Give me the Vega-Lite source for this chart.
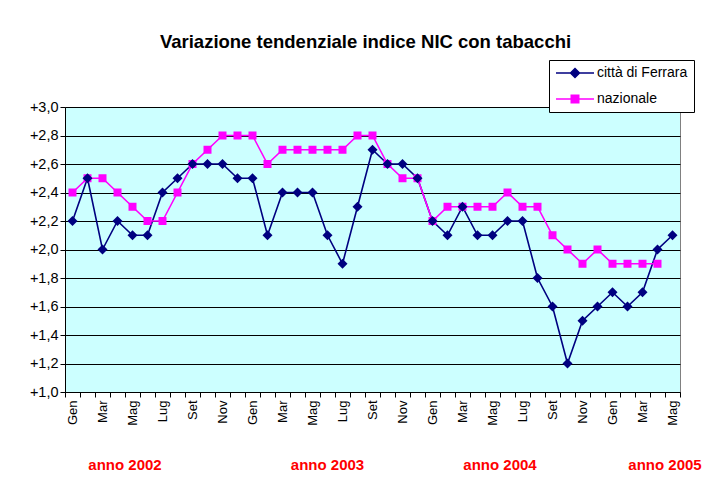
{
  "$schema": "https://vega.github.io/schema/vega-lite/v6.json",
  "width": 615,
  "height": 285,
  "autosize": {"type": "none"},
  "padding": {"left": 65, "top": 107, "right": 24, "bottom": 85},
  "background": "white",
  "config": {
    "font": "Liberation Sans",
    "view": {"fill": "#CCFFFF", "stroke": "#808080", "strokeWidth": 1},
    "axisX": {
      "title": null,
      "tickBand": "extent",
      "tickSize": 5,
      "tickColor": "black",
      "domainColor": "black",
      "labelAngle": -90,
      "labelFontSize": 13,
      "labelColor": "black",
      "labelPadding": 3,
      "labelOverlap": false,
      "grid": false
    },
    "axisY": {
      "title": null,
      "labelFontSize": 14.5,
      "labelColor": "black",
      "labelPadding": 2,
      "labelOverlap": false,
      "tickSize": 5,
      "tickColor": "black",
      "domainColor": "black",
      "grid": true,
      "gridColor": "black",
      "gridOpacity": 1,
      "gridWidth": 1
    }
  },
  "title": {
    "text": "Variazione tendenziale indice NIC con tabacchi",
    "font": "Liberation Sans",
    "fontSize": 18.5,
    "fontWeight": "bold",
    "color": "black",
    "anchor": "middle",
    "frame": "group",
    "offset": 8,
    "dx": -7
  },
  "layer": [
    {
      "data": {
        "values": [
          {"mese": "2002-01", "città di Ferrara": 2.2, "nazionale": 2.4},
          {"mese": "2002-02", "città di Ferrara": 2.5, "nazionale": 2.5},
          {"mese": "2002-03", "città di Ferrara": 2.0, "nazionale": 2.5},
          {"mese": "2002-04", "città di Ferrara": 2.2, "nazionale": 2.4},
          {"mese": "2002-05", "città di Ferrara": 2.1, "nazionale": 2.3},
          {"mese": "2002-06", "città di Ferrara": 2.1, "nazionale": 2.2},
          {"mese": "2002-07", "città di Ferrara": 2.4, "nazionale": 2.2},
          {"mese": "2002-08", "città di Ferrara": 2.5, "nazionale": 2.4},
          {"mese": "2002-09", "città di Ferrara": 2.6, "nazionale": 2.6},
          {"mese": "2002-10", "città di Ferrara": 2.6, "nazionale": 2.7},
          {"mese": "2002-11", "città di Ferrara": 2.6, "nazionale": 2.8},
          {"mese": "2002-12", "città di Ferrara": 2.5, "nazionale": 2.8},
          {"mese": "2003-01", "città di Ferrara": 2.5, "nazionale": 2.8},
          {"mese": "2003-02", "città di Ferrara": 2.1, "nazionale": 2.6},
          {"mese": "2003-03", "città di Ferrara": 2.4, "nazionale": 2.7},
          {"mese": "2003-04", "città di Ferrara": 2.4, "nazionale": 2.7},
          {"mese": "2003-05", "città di Ferrara": 2.4, "nazionale": 2.7},
          {"mese": "2003-06", "città di Ferrara": 2.1, "nazionale": 2.7},
          {"mese": "2003-07", "città di Ferrara": 1.9, "nazionale": 2.7},
          {"mese": "2003-08", "città di Ferrara": 2.3, "nazionale": 2.8},
          {"mese": "2003-09", "città di Ferrara": 2.7, "nazionale": 2.8},
          {"mese": "2003-10", "città di Ferrara": 2.6, "nazionale": 2.6},
          {"mese": "2003-11", "città di Ferrara": 2.6, "nazionale": 2.5},
          {"mese": "2003-12", "città di Ferrara": 2.5, "nazionale": 2.5},
          {"mese": "2004-01", "città di Ferrara": 2.2, "nazionale": 2.2},
          {"mese": "2004-02", "città di Ferrara": 2.1, "nazionale": 2.3},
          {"mese": "2004-03", "città di Ferrara": 2.3, "nazionale": 2.3},
          {"mese": "2004-04", "città di Ferrara": 2.1, "nazionale": 2.3},
          {"mese": "2004-05", "città di Ferrara": 2.1, "nazionale": 2.3},
          {"mese": "2004-06", "città di Ferrara": 2.2, "nazionale": 2.4},
          {"mese": "2004-07", "città di Ferrara": 2.2, "nazionale": 2.3},
          {"mese": "2004-08", "città di Ferrara": 1.8, "nazionale": 2.3},
          {"mese": "2004-09", "città di Ferrara": 1.6, "nazionale": 2.1},
          {"mese": "2004-10", "città di Ferrara": 1.2, "nazionale": 2.0},
          {"mese": "2004-11", "città di Ferrara": 1.5, "nazionale": 1.9},
          {"mese": "2004-12", "città di Ferrara": 1.6, "nazionale": 2.0},
          {"mese": "2005-01", "città di Ferrara": 1.7, "nazionale": 1.9},
          {"mese": "2005-02", "città di Ferrara": 1.6, "nazionale": 1.9},
          {"mese": "2005-03", "città di Ferrara": 1.7, "nazionale": 1.9},
          {"mese": "2005-04", "città di Ferrara": 2.0, "nazionale": 1.9},
          {"mese": "2005-05", "città di Ferrara": 2.1, "nazionale": null}
        ]
      },
      "transform": [
        {"fold": ["città di Ferrara", "nazionale"], "as": ["serie", "valore"]}
      ],
      "encoding": {
        "x": {
          "field": "mese",
          "type": "ordinal",
          "sort": "ascending",
          "scale": {"type": "band", "paddingInner": 0, "paddingOuter": 0},
          "axis": {
            "labelExpr": "(parseInt(substring(datum.value,5,7)) % 2 == 1) ? ['Gen','Feb','Mar','Apr','Mag','Giu','Lug','Ago','Set','Ott','Nov','Dic'][parseInt(substring(datum.value,5,7)) - 1] : ''"
          }
        },
        "y": {
          "field": "valore",
          "type": "quantitative",
          "scale": {"domain": [1, 3], "nice": false, "zero": false},
          "axis": {
            "values": [1.0, 1.2, 1.4, 1.6, 1.8, 2.0, 2.2, 2.4, 2.6, 2.8, 3.0],
            "labelExpr": "'+' + replace(format(datum.value, '.1f'), '.', ',')"
          }
        },
        "color": {
          "field": "serie",
          "type": "nominal",
          "scale": {"domain": ["città di Ferrara", "nazionale"], "range": ["#000080", "#FF00FF"]},
          "legend": {
            "title": null,
            "orient": "none",
            "legendX": 484,
            "legendY": -47,
            "direction": "vertical",
            "fillColor": "white",
            "strokeColor": "black",
            "padding": 6,
            "labelFont": "Liberation Sans",
            "labelFontSize": 14,
            "labelColor": "black",
            "labelOffset": 15,
            "symbolOffset": 13,
            "rowPadding": 11,
            "symbolSize": 100,
            "encode": {
              "symbols": {
                "update": {
                  "shape": {"signal": "datum.value === 'città di Ferrara' ? 'M-3.8,0H3.8M0,-0.9L0.9,0L0,0.9L-0.9,0Z' : 'M-3.8,0H3.8M-0.75,-0.75H0.75V0.75H-0.75Z'"},
                  "fill": {"signal": "datum.value === 'città di Ferrara' ? '#000080' : '#FF00FF'"},
                  "stroke": {"signal": "datum.value === 'città di Ferrara' ? '#000080' : '#FF00FF'"},
                  "strokeWidth": {"value": 1.5},
                  "opacity": {"value": 1},
                  "size": {"value": 100}
                }
              }
            }
          }
        }
      },
      "layer": [
        {"mark": {"type": "line", "strokeWidth": 1.6}},
        {
          "transform": [{"filter": "datum.serie === 'nazionale'"}],
          "mark": {"type": "point", "filled": true, "opacity": 1, "shape": "square", "size": 64}
        },
        {
          "transform": [{"filter": "datum.serie === 'città di Ferrara'"}],
          "mark": {"type": "point", "filled": true, "opacity": 1, "shape": "diamond", "size": 100}
        }
      ]
    },
    {
      "data": {
        "values": [
          {"mese": "2002-05", "anno": "anno 2002"},
          {"mese": "2004-06", "anno": "anno 2004"},
          {"mese": "2005-05", "anno": "anno 2005"}
        ]
      },
      "mark": {"type": "text", "font": "Liberation Sans", "fontSize": 15, "fontWeight": "bold", "fill": "#FF0000", "baseline": "middle", "align": "center"},
      "encoding": {
        "x": {
          "field": "mese", "type": "ordinal", "bandPosition": 0,
          "axis": {
            "labelExpr": "(parseInt(substring(datum.value,5,7)) % 2 == 1) ? ['Gen','Feb','Mar','Apr','Mag','Giu','Lug','Ago','Set','Ott','Nov','Dic'][parseInt(substring(datum.value,5,7)) - 1] : ''"
          }
        },
        "y": {
          "datum": 0.49, "type": "quantitative",
          "axis": {
            "values": [1.0, 1.2, 1.4, 1.6, 1.8, 2.0, 2.2, 2.4, 2.6, 2.8, 3.0],
            "labelExpr": "'+' + replace(format(datum.value, '.1f'), '.', ',')"
          }
        },
        "text": {"field": "anno", "type": "nominal"}
      }
    },
    {
      "data": {
        "values": [
          {"mese": "2003-06", "anno": "anno 2003"}
        ]
      },
      "mark": {"type": "text", "font": "Liberation Sans", "fontSize": 15, "fontWeight": "bold", "fill": "#FF0000", "baseline": "middle", "align": "center"},
      "encoding": {
        "x": {
          "field": "mese", "type": "ordinal", "bandPosition": 0.5,
          "axis": {
            "labelExpr": "(parseInt(substring(datum.value,5,7)) % 2 == 1) ? ['Gen','Feb','Mar','Apr','Mag','Giu','Lug','Ago','Set','Ott','Nov','Dic'][parseInt(substring(datum.value,5,7)) - 1] : ''"
          }
        },
        "y": {
          "datum": 0.49, "type": "quantitative",
          "axis": {
            "values": [1.0, 1.2, 1.4, 1.6, 1.8, 2.0, 2.2, 2.4, 2.6, 2.8, 3.0],
            "labelExpr": "'+' + replace(format(datum.value, '.1f'), '.', ',')"
          }
        },
        "text": {"field": "anno", "type": "nominal"}
      }
    }
  ]
}
